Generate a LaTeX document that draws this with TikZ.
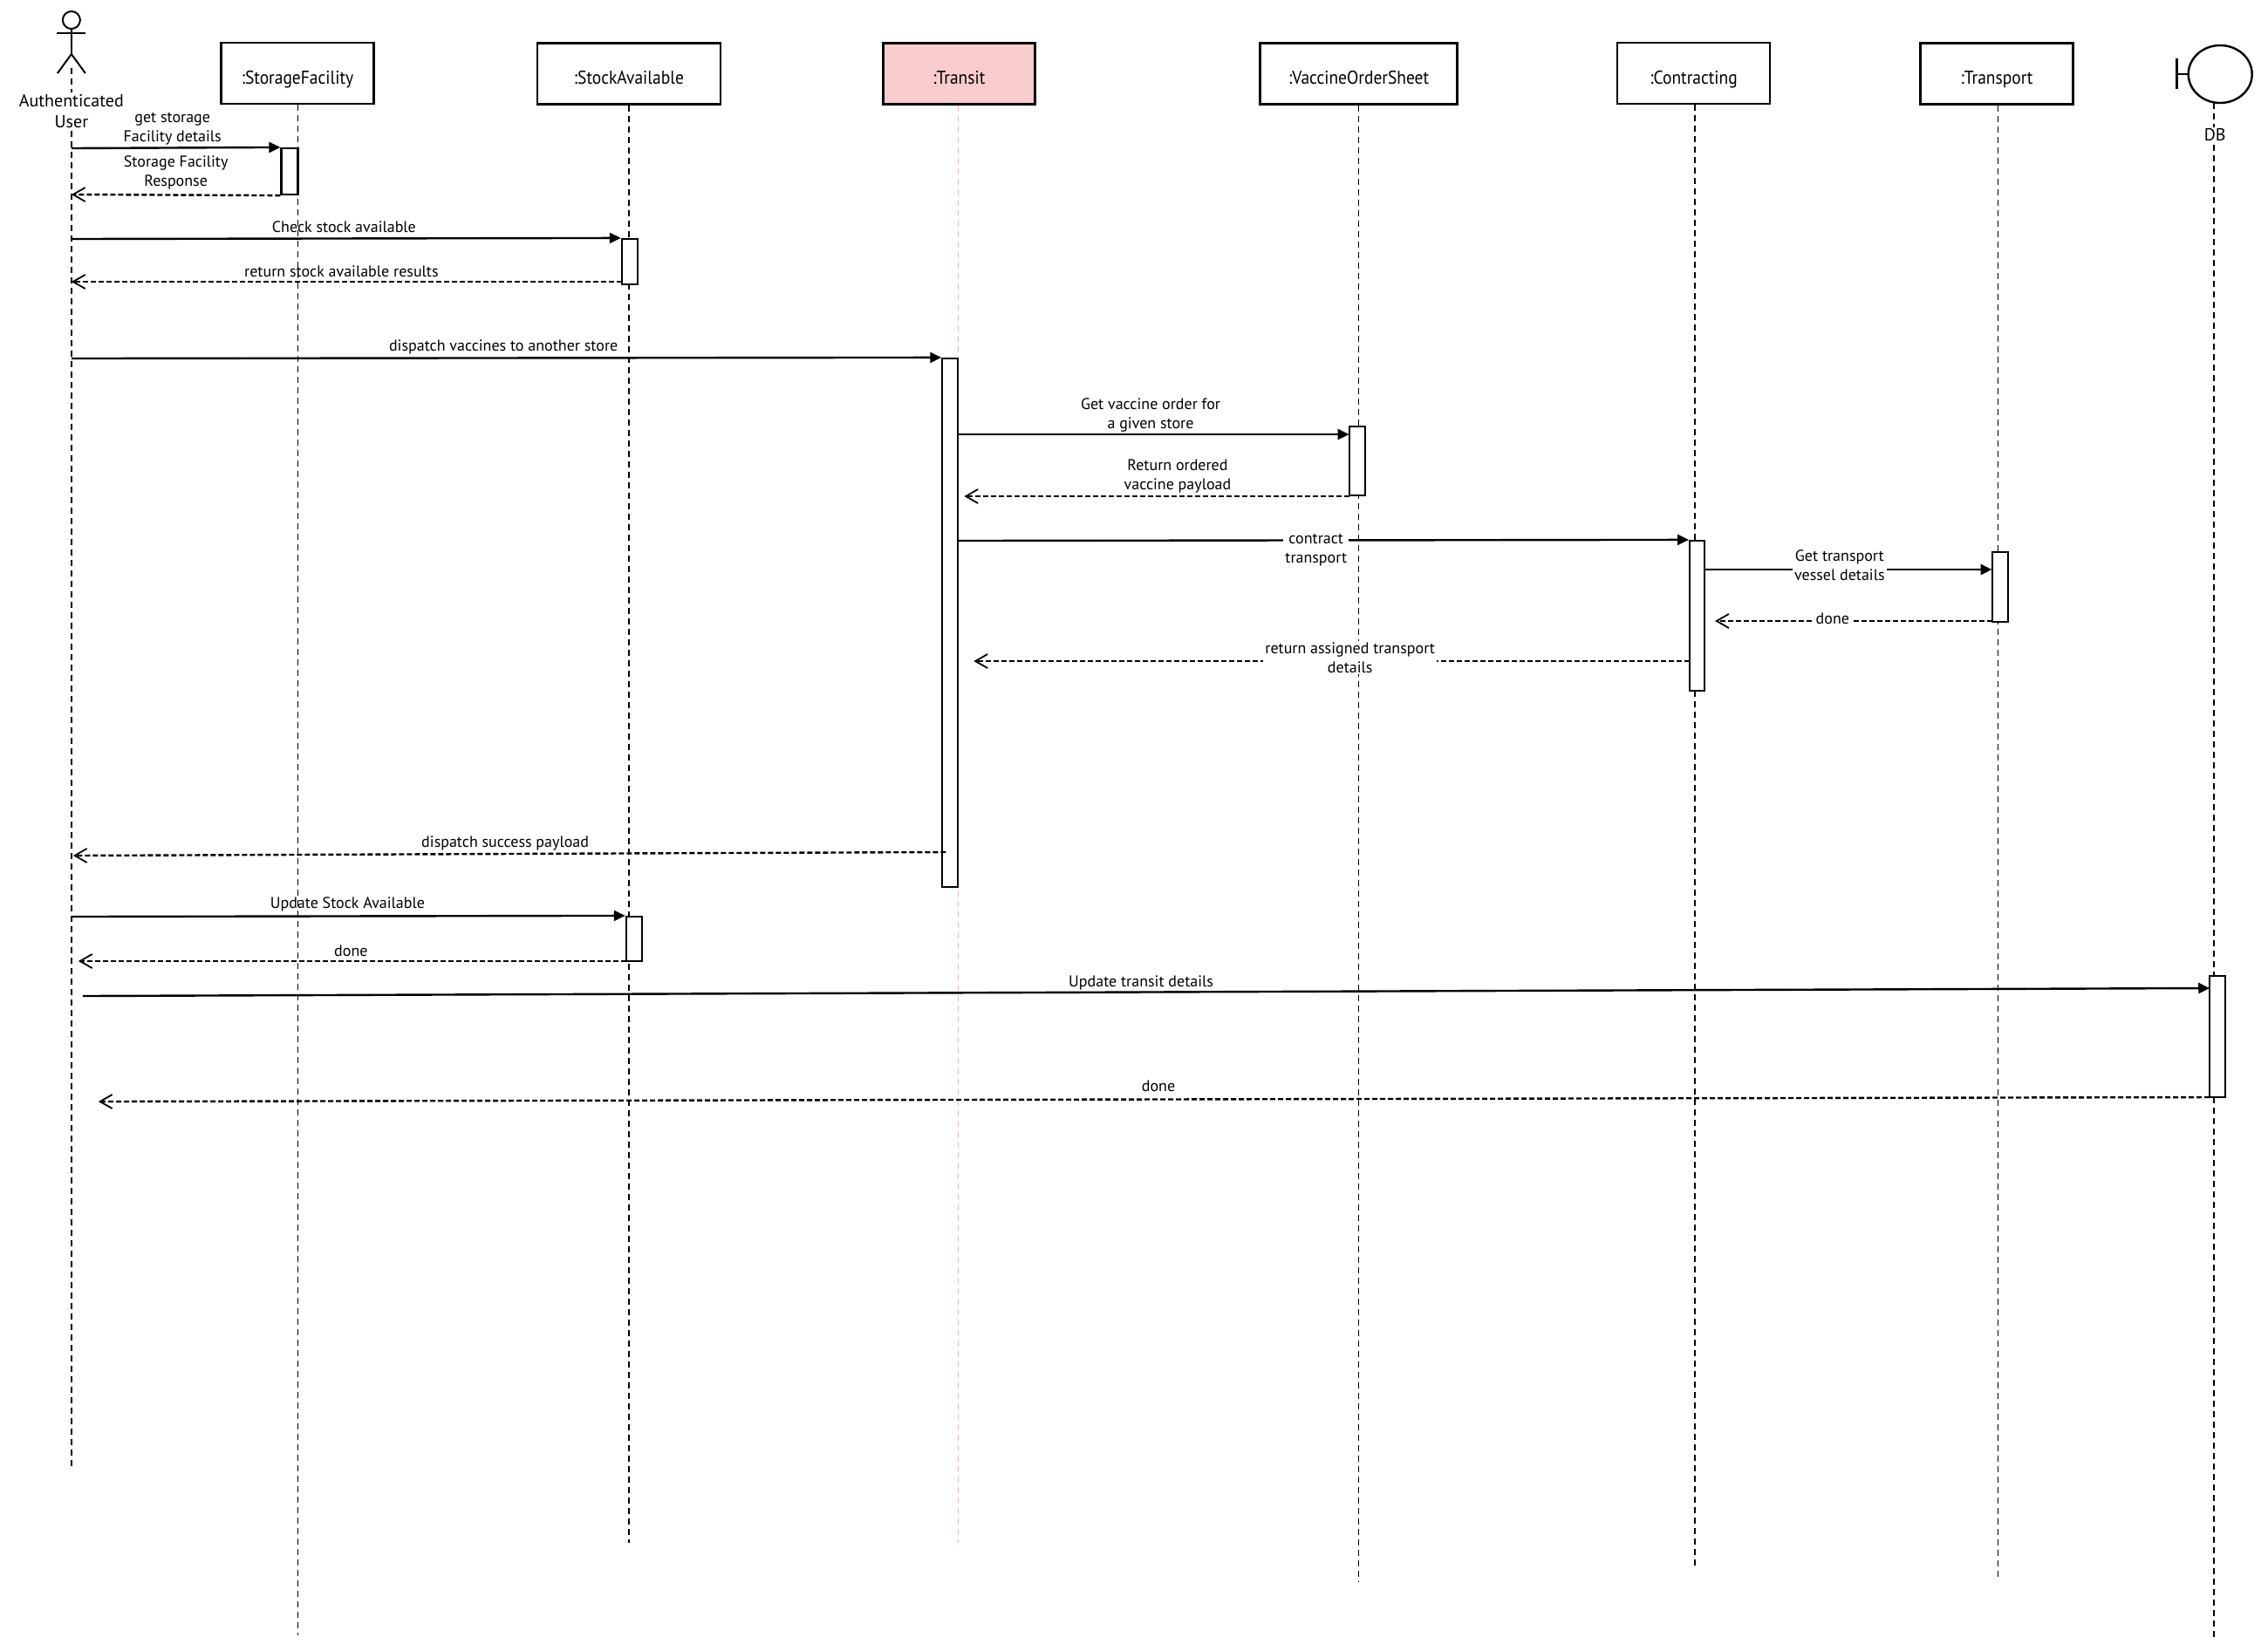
\documentclass[tikz,border=0pt]{standalone}
\usepackage{fontspec}
\setmainfont{PT Sans}
\newfontfamily\boxfont{PT Sans}[FakeStretch=0.91]
\usetikzlibrary{arrows.meta,shapes.geometric}
\definecolor{transitfill}{RGB}{248,204,204}
\definecolor{transitline}{RGB}{242,180,180}
\begin{document}
\begin{tikzpicture}[x=0.49925pt,y=-0.5pt,
  obj/.style={draw, line width=1.3pt, inner sep=0pt, minimum height=35pt, text height=12pt, text depth=0pt, font=\boxfont\fontsize{10.7}{12}\selectfont},
  act/.style={draw, fill=white, line width=1.1pt, inner sep=0pt, minimum width=9pt},
  life/.style={line width=0.8pt, dash pattern=on 3.5pt off 2.5pt},
  msg/.style={line width=1.2pt, -{Triangle[length=6.5pt,width=6pt]}},
  ret/.style={line width=1.2pt, dash pattern=on 3pt off 1.5pt, -{Straight Barb[length=7pt,width=8pt,line width=0.9pt]}},
  lbl/.style={align=center, inner sep=1pt, font=\fontsize{9}{11}\selectfont},
  wlbl/.style={lbl, fill=white}
]
\useasboundingbox (0pt,0pt) rectangle (1300pt,-946pt);

% actor
\node[circle, draw, line width=1pt, minimum size=10pt, inner sep=0pt] (head) at (82,23) {};
\draw[line width=1pt] (head.south) -- (82,62) coordinate (hip);
\draw[line width=1pt] (65,38) coordinate (arml) -- (98,38) coordinate (armr);
\draw[line width=1pt] (66,84) coordinate (legl) -- (hip) -- (98,84) coordinate (legr);
\coordinate (actTop) at (82,78);
\coordinate (actEnd) at (82,1681);

% objects
\node[obj, minimum width=87.5pt] (sf) at (341.5,84) {:StorageFacility};
\node[obj, minimum width=105pt] (sa) at (722,84.5) {:StockAvailable};
\node[obj, minimum width=87pt, fill=transitfill] (tr) at (1101,84.5) {:Transit};
\node[obj, minimum width=113pt] (vos) at (1560,84.5) {:VaccineOrderSheet};
\node[obj, minimum width=87.5pt] (con) at (1944.5,84) {:Contracting};
\node[obj, minimum width=87.5pt] (tp) at (2292.5,84.5) {:Transport};
\node[ellipse, draw, line width=1.2pt, minimum width=36.5pt, minimum height=33pt, inner sep=0pt] (db) at (2549,85) {};
\draw[line width=1.2pt] (2499,67) coordinate (dbt) -- (2499,102) coordinate (dbb);
\draw[line width=1.2pt] (2499,85) coordinate (dbm) -- (db.west);

% lifeline ends
\coordinate (sfEnd) at (342,1875);
\coordinate (saEnd) at (722,1769);
\coordinate (trEnd) at (1100,1769);
\coordinate (vosEnd) at (1560,1814);
\coordinate (conEnd) at (1946,1799);
\coordinate (tpEnd) at (2294,1810);
\coordinate (dbTop) at (2542,118);
\coordinate (dbEnd) at (2542,1881);

\draw[life] (actTop) -- (actEnd);
\draw[life] (sf.south -| sfEnd) -- (sfEnd);
\draw[life] (sa.south -| saEnd) -- (saEnd);
\draw[life, draw=transitline] (tr.south -| trEnd) -- (trEnd);
\draw[life] (vos.south -| vosEnd) -- (vosEnd);
\draw[life] (con.south -| conEnd) -- (conEnd);
\draw[life] (tp.south -| tpEnd) -- (tpEnd);
\draw[life] (dbTop) -- (dbEnd);

\node[wlbl, font=\fontsize{10}{12.5}\selectfont] (actlbl) at (82,127.5) {Authenticated\\User};
\node[wlbl, font=\fontsize{10}{12}\selectfont] (dblbl) at (2543,155) {DB};

% activations
\node[act, minimum width=9.5pt, minimum height=26.5pt] (a1) at (332.5,196.5) {};
\node[act, minimum height=26pt] (a2) at (723,300) {};
\node[act, minimum height=303pt] (a3) at (1091,714) {};
\node[act, minimum height=39.5pt] (a4) at (1558,528.5) {};
\node[act, minimum width=8.5pt, minimum height=86pt] (a5) at (1948.5,706) {};
\node[act, minimum height=40pt] (a6) at (2296,673) {};
\node[act, minimum height=25.5pt] (a7) at (728,1076.5) {};
\node[act, minimum height=69.5pt] (a8) at (2546,1188.5) {};

% message endpoints
\coordinate (m1s) at (82,170);
\coordinate (m2e) at (82,223);
\coordinate (m3s) at (82,274);
\coordinate (m4s) at (714,323);
\coordinate (m4e) at (82,323);
\coordinate (m5s) at (82,411);
\coordinate (m6s) at (1100,498);
\coordinate (m6e) at (1549,498);
\coordinate (m7s) at (1549,569);
\coordinate (m7e) at (1107,569);
\coordinate (m8s) at (1100,620);
\coordinate (m9s) at (1957,653);
\coordinate (m9e) at (2287,653);
\coordinate (m10s) at (2287,712);
\coordinate (m10e) at (1969,712);
\coordinate (m11s) at (1940,758);
\coordinate (m11e) at (1118,758);
\coordinate (m12s) at (1086,977);
\coordinate (m12e) at (84,981);
\coordinate (m13s) at (82,1051);
\coordinate (m14s) at (719,1102);
\coordinate (m14e) at (90,1102);
\coordinate (m15s) at (95,1142);
\coordinate (m15e) at (2537,1133);
\coordinate (m16s) at (2537,1258);
\coordinate (m16e) at (113,1263);

\draw[msg] (m1s) -- (a1.north west);
\draw[ret] (a1.south west) -- (m2e);
\draw[msg] (m3s) -- (a2.north west);
\draw[ret] (m4s) -- (m4e);
\draw[msg] (m5s) -- (a3.north west);
\draw[msg] (m6s) -- (m6e);
\draw[ret] (m7s) -- (m7e);
\draw[msg] (m8s) -- (a5.north west);
\draw[msg] (m9s) -- (m9e);
\draw[ret] (m10s) -- (m10e);
\draw[ret] (m11s) -- (m11e);
\draw[ret] (m12s) -- (m12e);
\draw[msg] (m13s) -- (a7.north west);
\draw[ret] (m14s) -- (m14e);
\draw[msg] (m15s) -- (m15e);
\draw[ret] (m16s) -- (m16e);

% labels
\node[lbl] (l1) at (198,148) {get storage\\Facility details};
\node[lbl] (l2) at (202,198) {Storage Facility\\Response};
\node[lbl] (l3) at (395,260) {Check stock available};
\node[lbl] (l4) at (392,311) {return stock available results};
\node[lbl] (l5) at (578,398) {dispatch vaccines to another store};
\node[lbl] (l6) at (1321,475.5) {Get vaccine order for\\a given store};
\node[lbl] (l7) at (1352,545.5) {Return ordered\\vaccine payload};
\node[wlbl] (l8) at (1511,630.5) {contract\\transport};
\node[wlbl] (l9) at (2112,648) {Get transport\\vessel details};
\node[wlbl] (l10) at (2104,709) {done};
\node[wlbl] (l11) at (1550,754) {return assigned transport\\details};
\node[lbl] (l12) at (580,967) {dispatch success payload};
\node[lbl] (l13) at (399,1037) {Update Stock Available};
\node[lbl] (l14) at (403,1090) {done};
\node[lbl] (l15) at (1310,1127) {Update transit details};
\node[lbl] (l16) at (1330,1245) {done};
\end{tikzpicture}
\end{document}
